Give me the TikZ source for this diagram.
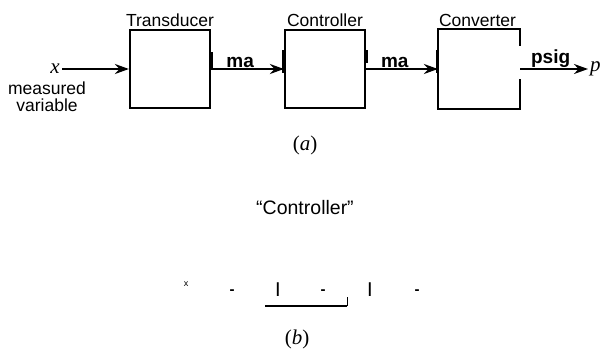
\documentclass[tikz,border=0pt]{standalone}
\usepackage{fontspec}
\setmainfont{Liberation Sans}
\newfontfamily\timesfont{Liberation Serif}
\usetikzlibrary{arrows.meta,positioning}

\tikzset{
  block/.style={draw, line width=2.2pt, minimum width=80pt, minimum height=78pt, inner sep=0pt},
  blocklabel/.style={font=\fontsize{17.5}{17}\selectfont, inner sep=1pt},
  sig/.style={line width=2.2pt, -{Stealth[length=14pt,width=10pt]}},
  siglabel/.style={font=\bfseries\fontsize{19}{20}\selectfont, inner sep=0.5pt},
  tickmark/.style={line width=3pt},
  ital/.style={font=\timesfont\fontsize{21}{22}\selectfont, inner sep=1pt},
  scrap/.style={font=\bfseries\fontsize{15}{16}\selectfont, inner sep=0pt}
}

\begin{document}
\begin{tikzpicture}[x=1pt,y=-1pt]
  \useasboundingbox (0,0) rectangle (605,349);
  % (a) transducer, controller, converter
  \node[block] (trans) at (170,69) {};
  \node[block] (ctrl) at (325,69) {};
  \node[block, draw=none] (conv) at (479,69) {};
  \draw[line width=2.2pt] (conv.north east) ++(0,17) -- (conv.north east) -- (conv.north west)
    -- (conv.south west) -- (conv.south east) -- ++(0,-30);
  \node[blocklabel, above=1pt of trans] (translbl) {Transducer};
  \node[blocklabel, above=1pt of ctrl] (ctrllbl) {Controller};
  \node[blocklabel, anchor=south west] (convlbl) at ([yshift=1pt]conv.north west) {Converter};
  % input and output
  \coordinate (xin) at (62,69);
  \coordinate (pout) at (588,69);
  \node[ital, left=1pt of xin] (xlbl) {\itshape x};
  \node[blocklabel, align=center] (mvlbl) at (47,97) {measured\\variable};
  \node[ital, right=1pt of pout] (plbl) {\itshape p};
  \draw[sig] (xin) -- (trans.west);
  \draw[sig] (trans.east) -- (ctrl.west) node[siglabel, pos=0.4, above] (ma1) {ma};
  \draw[sig] (ctrl.east) -- (conv.west) node[siglabel, pos=0.4, above] (ma2) {ma};
  \draw[sig] (conv.east) -- (pout) node[siglabel, pos=0.45, above] (psig) {psig};
  \draw[tickmark] (trans.east) -- ++(0,-17);
  \draw[tickmark] (ctrl.west) ++(0,-19) -- ++(0,23);
  \draw[tickmark] (ctrl.east) ++(0,-19) -- ++(0,13);
  \draw[tickmark] (conv.west) ++(0,-19) -- ++(0,23);
  \node[ital] (capa) at (305,145) {(\textit{a})};
  % (b)
  \node[font=\fontsize{19.5}{20}\selectfont] (ctrlq) at (305,208) {“Controller”};
  \node[font=\fontsize{9}{10}\selectfont, inner sep=0pt] (bx) at (186,284) {x};
  \node[scrap] (d1) at (232,292) {-};
  \node[scrap] (d2) at (323,292) {-};
  \node[scrap] (d3) at (417,292) {-};
  \node[font=\fontsize{20}{20}\selectfont, inner sep=0pt] (i1) at (278,290) {I};
  \node[font=\fontsize{20}{20}\selectfont, inner sep=0pt] (i2) at (370,290) {I};
  \coordinate (la) at (265,306);
  \coordinate (lb) at (347,306);
  \draw[line width=2.4pt] (la) -- (lb);
  \draw[line width=0.8pt] (lb) -- ++(0,-9);
  \node[ital] (capb) at (297,339) {(\textit{b})};
\end{tikzpicture}
\end{document}
